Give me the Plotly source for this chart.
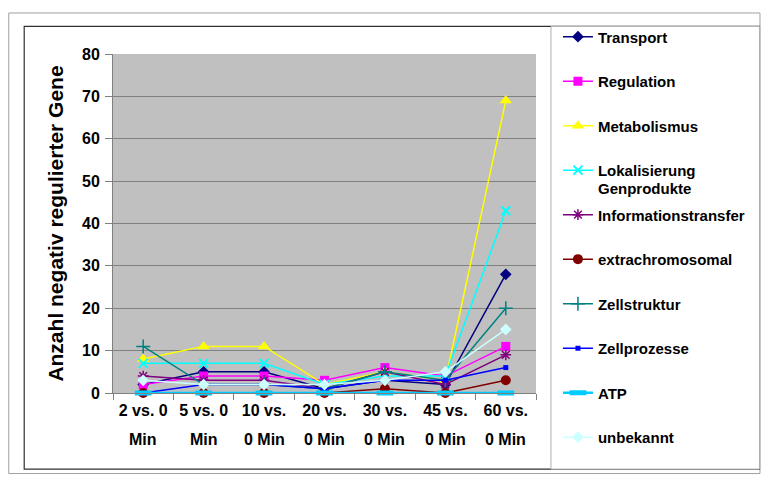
import plotly.graph_objects as go

categories = ["2 vs. 0 Min", "5 vs. 0 Min", "10 vs. 0 Min", "20 vs. 0 Min",
              "30 vs. 0 Min", "45 vs. 0 Min", "60 vs. 0 Min"]
tick_line1 = ["2 vs. 0", "5 vs. 0", "10 vs.", "20 vs.", "30 vs.", "45 vs.", "60 vs."]
tick_line2 = ["Min", "Min", "0 Min", "0 Min", "0 Min", "0 Min", "0 Min"]

transport = [2, 5, 5, 1, 3, 2, 28]
regulation = [2, 4, 4, 3, 6, 4, 11]
metabolismus = [8, 11, 11, 2, 5, 3, 69]
lokalisierung = [7, 7, 7, 2, 4, 4, 43]
informationstransfer = [4, 3, 3, 1, 5, 2, 9]
extrachromosomal = [0, 0, 0, 0, 1, 0, 3]
zellstruktur = [11, 2, 2, 1, 5, 3, 20]
zellprozesse = [0, 2, 2, 1, 3, 3, 6]
atp = [0, 0, 0, 0, 0, 0, 0]
unbekannt = [3, 2, 2, 2, 3, 5, 15]

series = [
    ("Transport", transport, "#000080", "diamond", 9, None, 1.5),
    ("Regulation", regulation, "#FF00FF", "square", 9, None, 1.5),
    ("Metabolismus", metabolismus, "#FFFF00", "triangle-up", 11, None, 1.5),
    ("Lokalisierung", lokalisierung, "#00FFFF", "x-thin-open", 9, 2, 1.5),
    ("Informationstransfer", informationstransfer, "#800080", "asterisk-open", 9, 1.5, 1.5),
    ("extrachromosomal", extrachromosomal, "#800000", "circle", 10, None, 1.5),
    ("Zellstruktur", zellstruktur, "#008080", "cross-thin-open", 10, 1.5, 1.5),
    ("Zellprozesse", zellprozesse, "#0000FF", "square", 5, None, 1.5),
    ("ATP", atp, "#00CCFF", "line-ew-open", 12, 5, 2.5),
    ("unbekannt", unbekannt, "#CCFFFF", "diamond", 9, None, 1.5),
]

W, H = 754, 467
L, R, T, B = 105, 529, 42, 385


def px(x):
    return (x - L) / (R - L)


def py(y):
    return (B - y) / (B - T)


fig = go.Figure()
for i, (name, vals, color, sym, size, lw, linew) in enumerate(series):
    marker = dict(symbol=sym, size=size, color=color)
    if lw is not None:
        marker["line"] = dict(color=color, width=lw)
    fig.add_trace(go.Scatter(
        x=categories, y=vals, name=name, mode="lines+markers",
        line=dict(color=color, width=linew), marker=marker,
        legendgroup=str(i), cliponaxis=False,
    ))

shapes = [
    dict(type="rect", xref="paper", yref="paper", x0=px(0.5), x1=px(W - 0.5), y0=py(H - 0.5), y1=py(0.5),
         line=dict(color="#A0A0A0", width=1), layer="below"),
    dict(type="rect", xref="paper", yref="paper", x0=px(16), x1=px(753), y0=py(462), y1=py(14),
         line=dict(color="#303030", width=1.2), layer="below"),
    dict(type="rect", xref="paper", yref="paper", x0=px(544), x1=px(753), y0=py(462), y1=py(14),
         line=dict(color="#B0B0B0", width=1), fillcolor="white", layer="below"),
]

bold = dict(family="Liberation Sans", color="black", weight="bold")
annotations = []
for c, t in zip(categories, tick_line2):
    annotations.append(dict(x=c, xref="x", y=py(432), yref="paper", text=t, showarrow=False,
                            font=dict(size=16, **bold), yanchor="middle"))
annotations.append(dict(x=px(589), xref="paper", y=py(178), yref="paper", text="Genprodukte",
                        showarrow=False, xanchor="left", yanchor="middle",
                        font=dict(size=15, **bold)))

fig.update_layout(
    width=W, height=H,
    margin=dict(l=L, r=W - R, t=T, b=H - B, pad=0),
    paper_bgcolor="white", plot_bgcolor="#C0C0C0",
    font=dict(family="Liberation Sans", color="black"),
    showlegend=True,
    legend=dict(x=px(551), y=py(8), xanchor="left", yanchor="top",
                font=dict(size=15, **bold),
                bgcolor="rgba(0,0,0,0)", tracegroupgap=22, traceorder="grouped",
                itemwidth=30, maxheight=460),
    shapes=shapes, annotations=annotations,
)
fig.update_xaxes(
    tickvals=categories, ticktext=tick_line1, ticks="outside", tickson="boundaries",
    ticklen=6, tickcolor="#808080", showgrid=False, showline=True, linecolor="#808080",
    linewidth=1, range=[-0.5, 6.5], ticklabelstandoff=3,
    tickfont=dict(size=16, **bold),
)
fig.update_yaxes(
    range=[0, 80], dtick=10, ticks="outside", ticklen=7, tickcolor="#808080",
    showgrid=True, gridcolor="#808080", gridwidth=1, showline=True, linecolor="#808080",
    zeroline=False, ticklabelstandoff=2,
    tickfont=dict(size=16, **bold),
    title=dict(text="Anzahl negativ regulierter Gene", standoff=12,
               font=dict(size=21, **bold)),
)
fig.write_html("out.html")
